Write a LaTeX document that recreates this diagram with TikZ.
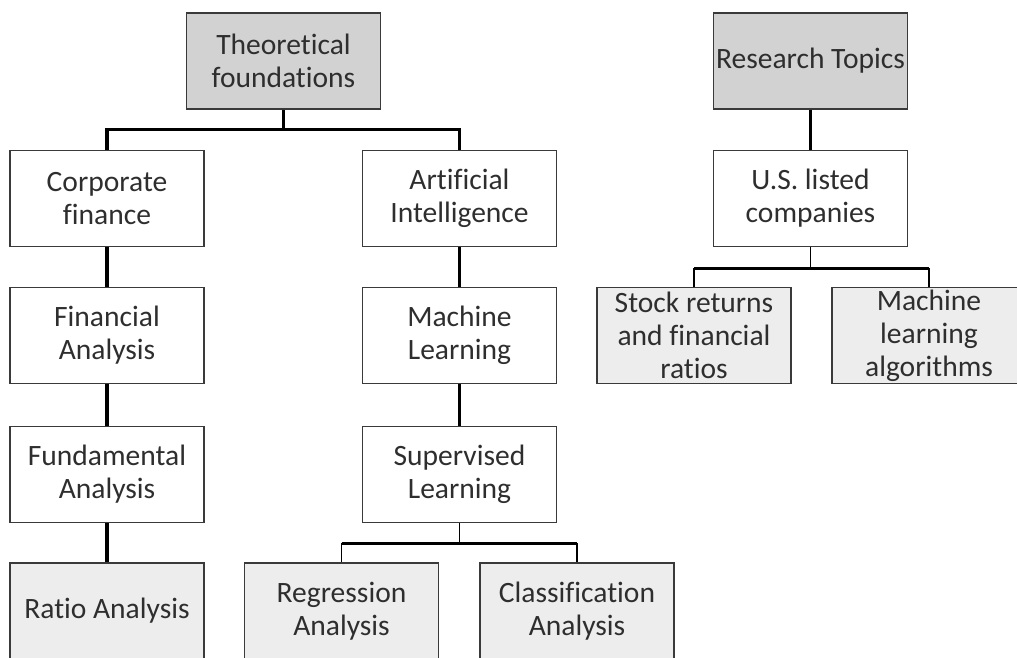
\documentclass[tikz,border=0pt]{standalone}
\usepackage{fontspec}
\setmainfont[Ligatures=CommonOff]{Carlito}
\usetikzlibrary{positioning,calc}
\definecolor{boxline}{HTML}{3A3A3A}
\definecolor{headgray}{HTML}{D2D2D2}
\definecolor{leafgray}{HTML}{EDEDED}
\definecolor{textgray}{HTML}{2E2E2E}
\begin{document}
\begin{tikzpicture}[x=0.025cm,y=-0.025cm,
  box/.style={draw=boxline,line width=1pt,minimum width=4.85cm,minimum height=2.4cm,
    align=center,inner sep=1pt,text=textgray,font=\fontsize{21}{23.5}\selectfont},
  head/.style={box,fill=headgray},
  leaf/.style={box,fill=leafgray},
  link/.style={draw=black,line width=2.2pt},
  stub/.style={draw=black,line width=0.9pt}]
  \useasboundingbox (0,0) rectangle (1017,657);
  \clip (0,0) rectangle (1017,657);
  % theoretical side
  \node[head] (theo) at (283.5,61) {Theoretical\\foundations};
  \node[box] (corp) at (107,198.5) {Corporate\\finance};
  \node[box] (fin) at (107,335.5) {Financial\\Analysis};
  \node[box] (fund) at (107,474.5) {Fundamental\\Analysis};
  \node[leaf] (ratio) at (107,611) {Ratio Analysis};
  \node[box] (ai) at (459.5,198.5) {Artificial\\Intelligence};
  \node[box] (ml) at (459.5,335.5) {Machine\\Learning};
  \node[box] (sup) at (459.5,474.5) {Supervised\\Learning};
  \node[leaf] (reg) at (341.5,611) {Regression\\Analysis};
  \node[leaf] (cls) at (577,611) {Classification\\Analysis};
  % research side
  \node[head] (res) at (810.5,61) {Research Topics};
  \node[box] (us) at (810.5,198.5) {U.S. listed\\companies};
  \node[leaf] (stock) at (694,335.5) {Stock returns\\and financial\\ratios};
  \node[leaf] (mlalg) at (929,335.5) {Machine\\learning\\algorithms};

  \draw[link] (theo.south) -- ++(0,20) coordinate (theofork) -| (corp.north);
  \draw[link] (theofork) -| (ai.north);
  \draw[link] (corp) -- (fin);
  \draw[link] (fin) -- (fund);
  \draw[link] (fund) -- (ratio);
  \draw[link] (ai) -- (ml);
  \draw[link] (ml) -- (sup);
  \draw[stub] (sup.south) -- ++(0,20) coordinate (supfork);
  \draw[link] (reg.north |- supfork) -- (cls.north |- supfork);
  \draw[stub] (reg.north |- supfork) -- (reg.north);
  \draw[stub] (cls.north |- supfork) -- (cls.north);
  \draw[link] (res) -- (us);
  \draw[stub] (us.south) -- ++(0,21) coordinate (usfork);
  \draw[link] (stock.north |- usfork) -- (mlalg.north |- usfork);
  \draw[stub] (stock.north |- usfork) -- (stock.north);
  \draw[stub] (mlalg.north |- usfork) -- (mlalg.north);
\end{tikzpicture}
\end{document}
